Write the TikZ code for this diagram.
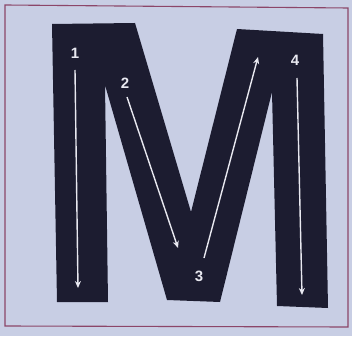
\documentclass[tikz,border=0pt]{standalone}
\usepackage{fontspec}
\setmainfont{Liberation Sans}
\usetikzlibrary{arrows.meta}
\definecolor{bg}{RGB}{200,206,228}
\definecolor{frame}{RGB}{140,70,105}
\definecolor{ink}{RGB}{28,28,48}
\definecolor{chalk}{RGB}{232,232,240}
\tikzset{
  num/.style={text=chalk,font=\bfseries\fontsize{15}{15}\selectfont,inner sep=0pt},
  stroke/.style={draw=chalk,line width=1.4pt,-{Stealth[length=7pt,width=6pt]}}
}
\begin{document}
\begin{tikzpicture}[x=1pt,y=-1pt]
\useasboundingbox (0,0) rectangle (352,336);
\fill[bg] (0,0) rectangle (352,336);
\draw[frame,line width=1.1pt] (5,5) -- (348,8) -- (348,327) -- (5,326) -- cycle;
% letter M
\fill[ink] (52,24) -- (135,23) -- (191,212) -- (237,29) -- (323,34)
  -- (328,308) -- (277,306) -- (272,92) -- (220,302) -- (167,300)
  -- (105,85) -- (108,302) -- (57,302) -- cycle;
% labels
\node[num] (n1) at (75,53) {1};
\node[num] (n2) at (125,83) {2};
\node[num] (n3) at (199,276) {3};
\node[num] (n4) at (295,60) {4};
% stroke ends
\coordinate (a1) at (75,70);  \coordinate (b1) at (78,288);
\coordinate (a2) at (127,97); \coordinate (b2) at (178,248);
\coordinate (a3) at (204,258);\coordinate (b3) at (258,57);
\coordinate (a4) at (297,78); \coordinate (b4) at (302,295);
\draw[stroke] (a1) -- (b1);
\draw[stroke] (a2) -- (b2);
\draw[stroke] (a3) -- (b3);
\draw[stroke] (a4) -- (b4);
\end{tikzpicture}
\end{document}
